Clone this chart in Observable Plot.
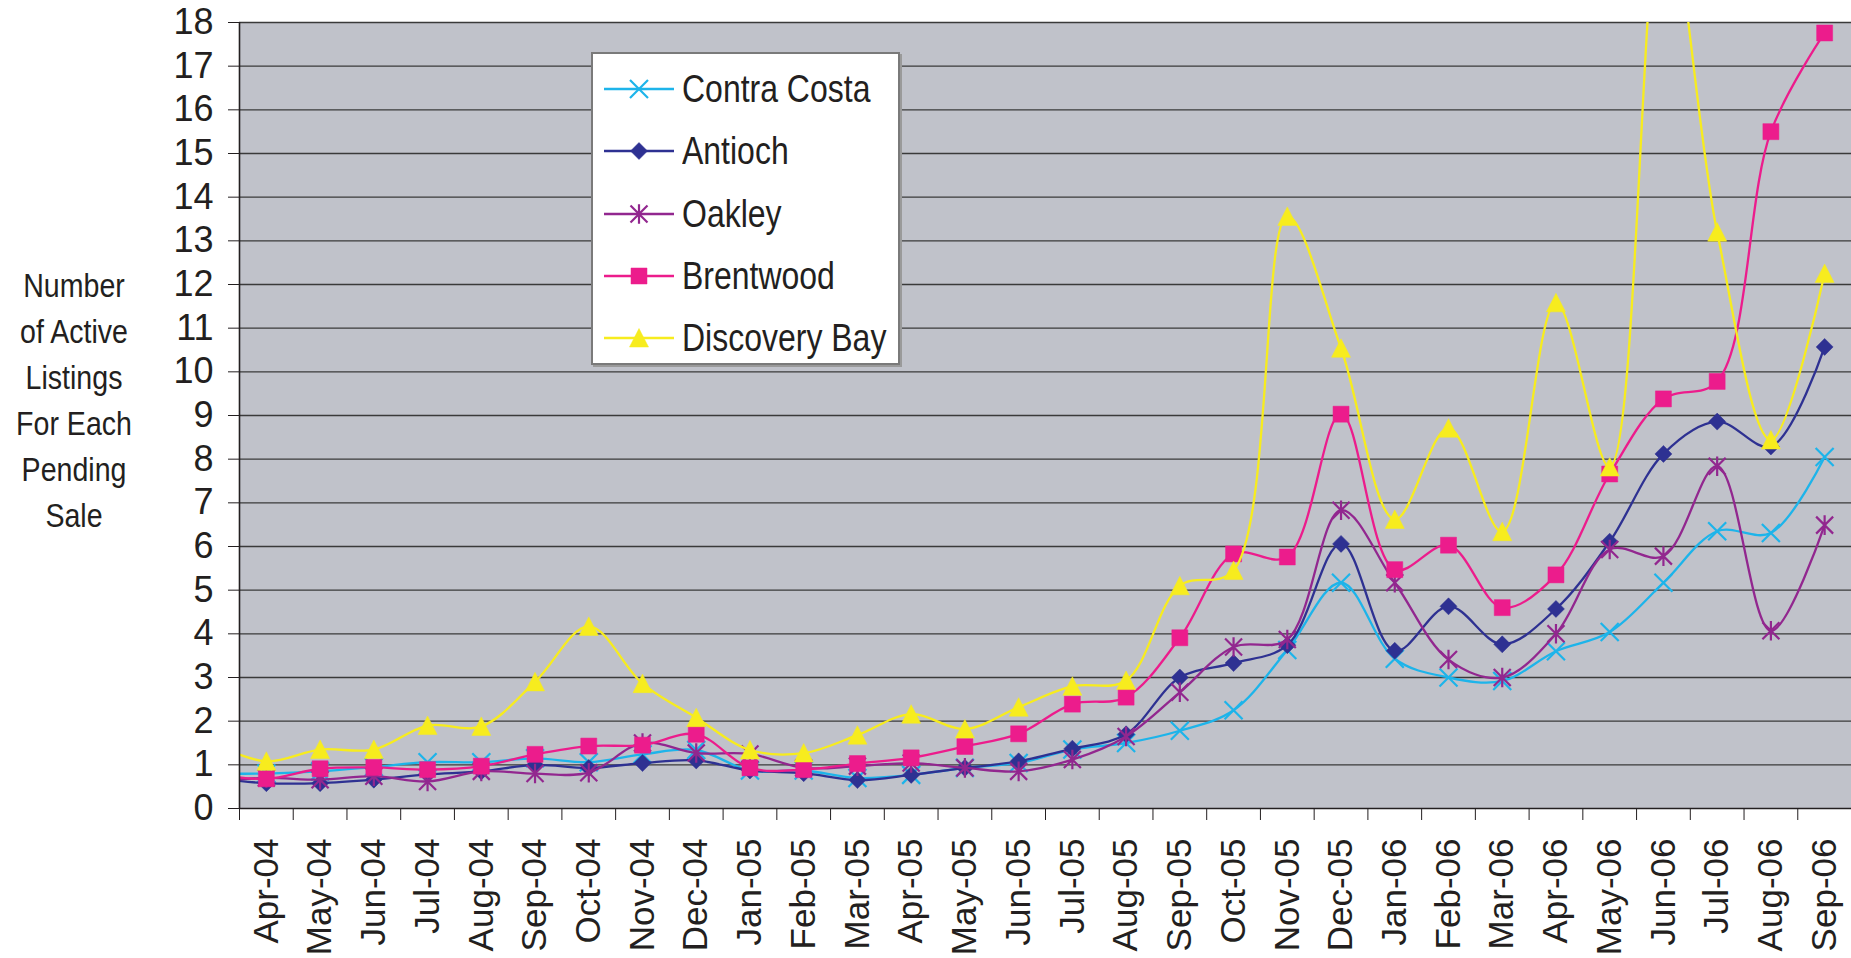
<!DOCTYPE html>
<html><head><meta charset="utf-8">
<script src="https://cdn.jsdelivr.net/npm/d3@7"></script>
<script src="https://cdn.jsdelivr.net/npm/@observablehq/plot@0.6"></script>
<style>
body{margin:0;background:#fff;}
#wrap{position:relative;width:1851px;height:958px;overflow:hidden;background:#fff;}
#ytitle{position:absolute;left:0;top:262px;width:148px;text-align:center;font-family:"Liberation Sans",Arial,sans-serif;font-size:34px;line-height:46px;color:#231f20;transform:scaleX(0.84);transform-origin:74px 0;}
#legend{position:absolute;left:591px;top:52px;width:305px;height:309px;background:#fff;border:2px solid #7a7a7a;box-shadow:2px 2px 0 #9a9a9a;}
.row{position:absolute;left:0;height:60px;display:flex;align-items:center;}
.row svg{margin-left:11px;}
.row span{display:inline-block;margin-left:8px;font-family:"Liberation Sans",Arial,sans-serif;font-size:39px;color:#231f20;white-space:nowrap;transform:scaleX(0.82);transform-origin:0 50%;}
</style></head><body>
<div id="wrap"></div>
<script>
const months = ["Mar-04","Apr-04","May-04","Jun-04","Jul-04","Aug-04","Sep-04","Oct-04","Nov-04","Dec-04",
  "Jan-05","Feb-05","Mar-05","Apr-05","May-05","Jun-05","Jul-05","Aug-05","Sep-05","Oct-05","Nov-05","Dec-05",
  "Jan-06","Feb-06","Mar-06","Apr-06","May-06","Jun-06","Jul-06","Aug-06","Sep-06"];
const seriesNames = ["Contra Costa","Antioch","Oakley","Brentwood","Discovery Bay"];
const contraCosta  = [0.80, 0.80,0.85,0.95,1.06,1.06,1.15,1.06,1.24,1.34, 0.87,0.87,0.70,0.77,0.93,1.04,1.35,1.50,1.78,2.25,3.63,5.17, 3.43,3.00,2.92,3.60,4.04,5.17,6.35,6.31,8.05];
const antioch      = [0.70, 0.58,0.58,0.66,0.78,0.85,1.00,0.93,1.04,1.10, 0.87,0.81,0.65,0.77,0.93,1.08,1.37,1.70,3.00,3.33,3.74,6.06, 3.61,4.63,3.76,4.57,6.11,8.12,8.86,8.29,10.57];
const oakley       = [0.62, 0.70,0.66,0.74,0.62,0.85,0.80,0.82,1.50,1.27, 1.25,0.93,0.97,1.04,0.93,0.85,1.12,1.65,2.66,3.70,3.87,6.83, 5.17,3.41,3.00,4.00,5.93,5.78,7.84,4.07,6.49];
const brentwood    = [0.80, 0.68,0.91,0.94,0.89,0.97,1.24,1.43,1.45,1.70, 0.93,0.89,1.03,1.16,1.42,1.71,2.39,2.55,3.91,5.83,5.76,9.03, 5.47,6.03,4.60,5.35,7.66,9.38,9.78,15.50,17.76];
const discoveryBay = [1.48, 1.08,1.35,1.35,1.90,1.88,2.90,4.17,2.86,2.08, 1.34,1.27,1.68,2.16,1.82,2.32,2.80,2.93,5.10,5.45,13.56,10.54, 6.62,8.71,6.34,11.58,7.82,21.0,13.20,8.44,12.25];
const yTicks = [0,1,2,3,4,5,6,7,8,9,10,11,12,13,14,15,16,17,18];
const colors = ["#1db4ea","#2e3192","#92278f","#ec1c8c","#f7ec1e"];

const values = [contraCosta, antioch, oakley, brentwood, discoveryBay];
const data = seriesNames.map((name, s) => values[s].map((v, i) => ({series: name, i, month: months[i], v})));

// custom Excel-like marker shapes; r (from size) is the half-size in px
const half = size => Math.sqrt(size / Math.PI);
const symTimes = {draw(c, size){const r = half(size); c.moveTo(-r,-r); c.lineTo(r,r); c.moveTo(r,-r); c.lineTo(-r,r);}};
const symDiamond = {draw(c, size){const r = half(size); c.moveTo(0,-r); c.lineTo(r,0); c.lineTo(0,r); c.lineTo(-r,0); c.closePath();}};
const symAsterisk = {draw(c, size){const r = half(size); c.moveTo(-r,-r); c.lineTo(r,r); c.moveTo(r,-r); c.lineTo(-r,r); c.moveTo(0,-r*1.15); c.lineTo(0,r*1.15);}};
const symSquare = {draw(c, size){const r = half(size); c.moveTo(-r,-r); c.lineTo(r,-r); c.lineTo(r,r); c.lineTo(-r,r); c.closePath();}};
const symTriangle = {draw(c, size){const r = half(size); c.moveTo(0,-r); c.lineTo(r,r*0.95); c.lineTo(-r,r*0.95); c.closePath();}};
const markers = [
  {symbol: symTimes, r: 9, filled: false},
  {symbol: symDiamond, r: 8.5, filled: true},
  {symbol: symAsterisk, r: 8.5, filled: false},
  {symbol: symSquare, r: 8, filled: true},
  {symbol: symTriangle, r: 9.5, filled: true}
];

const curve = "catmull-rom";
const seriesMarks = [];
data.forEach((rows, s) => {
  seriesMarks.push(Plot.line(rows, {x: "i", y: "v", stroke: colors[s], strokeWidth: 2.3, curve, clip: true}));
  const m = markers[s];
  seriesMarks.push(Plot.dot(rows.filter(d => d.i >= 1), {x: "i", y: "v", symbol: m.symbol, r: m.r,
    fill: m.filled ? colors[s] : "none", stroke: colors[s], strokeWidth: m.filled ? 0.5 : 2.2, clip: true}));
});

const boundaries = d3.range(0.5, months.length + 0.5, 1);
const labelIdx = d3.range(1, months.length);

const chart = Plot.plot({
  width: 1851, height: 958,
  marginLeft: 239, marginRight: 0, marginTop: 22, marginBottom: 150,
  style: {fontFamily: "'Liberation Sans', Arial, sans-serif", color: "#231f20", background: "transparent", overflow: "visible"},
  x: {type: "linear", domain: [0.5, months.length - 0.5]},
  y: {domain: [0, 18]},
  marks: [
    Plot.frame({fill: "#c0c2ca", stroke: null}),
    Plot.gridY(yTicks.slice(1), {stroke: "#3a3a3a", strokeOpacity: 1, strokeWidth: 1.4}),
    ...seriesMarks,
    Plot.ruleY([0], {stroke: "#231f20", strokeWidth: 1.6}),
    Plot.ruleX([0.5], {stroke: "#231f20", strokeWidth: 1.6}),
    Plot.axisY({ticks: yTicks, tickSize: 11, tickPadding: 15, fontSize: 36, label: null, tickFormat: d => d, stroke: "#231f20"}),
    Plot.axisX({ticks: boundaries, tickSize: 12, tickFormat: () => "", label: null, stroke: "#231f20"}),
    Plot.axisX({ticks: labelIdx, tickSize: 0, tickPadding: 30, tickRotate: -90, fontSize: 35, label: null, tickFormat: i => months[i]})
  ]
});

const wrap = document.getElementById("wrap");
wrap.appendChild(chart);

const title = document.createElement("div");
title.id = "ytitle";
title.innerHTML = ["Number","of Active","Listings","For Each","Pending","Sale"].join("<br>");
wrap.appendChild(title);

// legend
const legend = document.createElement("div");
legend.id = "legend";
const rowTops = [5, 67, 130, 192, 254];
seriesNames.forEach((name, s) => {
  const row = document.createElement("div");
  row.className = "row";
  row.style.top = rowTops[s] + "px";
  const svg = d3.create("svg").attr("width", 70).attr("height", 24);
  svg.append("line").attr("x1", 0).attr("x2", 70).attr("y1", 12).attr("y2", 12).attr("stroke", colors[s]).attr("stroke-width", 2.3);
  const m = markers[s];
  const p = d3.path();
  m.symbol.draw(p, m.r * m.r * Math.PI);
  svg.append("path").attr("transform", "translate(35,12)").attr("d", p.toString())
    .attr("fill", m.filled ? colors[s] : "none").attr("stroke", colors[s]).attr("stroke-width", m.filled ? 0.5 : 2.2);
  row.appendChild(svg.node());
  const sp = document.createElement("span");
  sp.textContent = name;
  row.appendChild(sp);
  legend.appendChild(row);
});
wrap.appendChild(legend);
</script>
</body></html>
